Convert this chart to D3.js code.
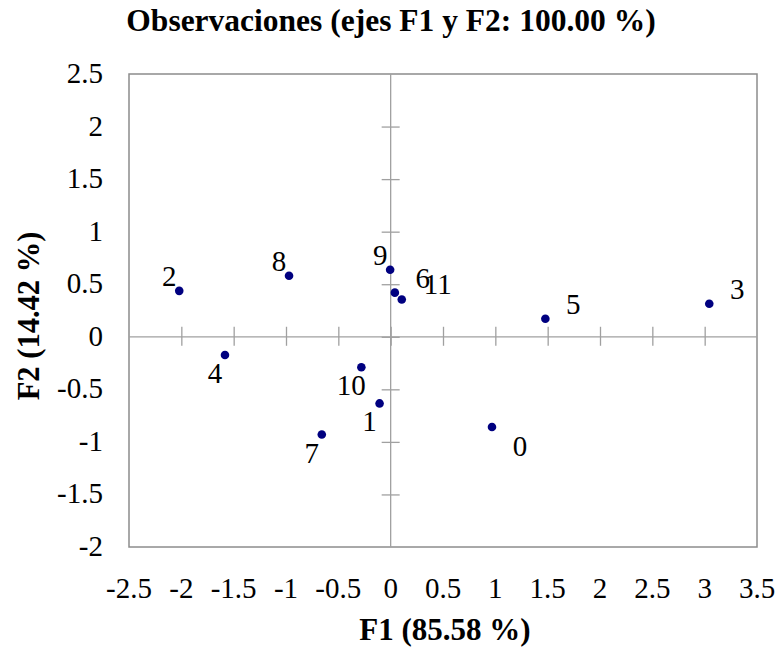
<!DOCTYPE html>
<html>
<head>
<meta charset="utf-8">
<script src="https://cdn.jsdelivr.net/npm/d3@7"></script>
<style>
  body { margin: 0; background: #fff; }
  text { font-family: "Liberation Serif", "Times New Roman", serif; fill: #000; }
</style>
</head>
<body>
<div id="chart"></div>
<script>
// Observaciones: coordenadas F1 / F2
const obsLabels = ["0", "1", "2", "3", "4", "5", "6", "7", "8", "9", "10", "11"];
const f1 = [0.968, -0.106, -2.02, 3.044, -1.583, 1.478, 0.04, -0.658, -0.971, -0.005, -0.28, 0.106];
const f2 = [-0.858, -0.634, 0.437, 0.314, -0.174, 0.171, 0.42, -0.93, 0.58, 0.637, -0.29, 0.355];
const xTicks = [-2.5, -2, -1.5, -1, -0.5, 0, 0.5, 1, 1.5, 2, 2.5, 3, 3.5];
const yTicks = [-2, -1.5, -1, -0.5, 0, 0.5, 1, 1.5, 2, 2.5];

const width = 781, height = 652;
const pLeft = 129, pRight = 757, pTop = 74, pBottom = 547;

const svg = d3.select("#chart").append("svg")
    .attr("width", width)
    .attr("height", height);

const x = d3.scaleLinear().domain([-2.5, 3.5]).range([pLeft, pRight]);
const y = d3.scaleLinear().domain([-2, 2.5]).range([pBottom, pTop]);

// frame
svg.append("rect")
    .attr("x", pLeft).attr("y", pTop)
    .attr("width", pRight - pLeft).attr("height", pBottom - pTop)
    .attr("fill", "none")
    .attr("stroke", "#8c8c8c")
    .attr("stroke-width", 1.5);

// zero axes with crossing ticks
const xAx = svg.append("g")
    .attr("transform", `translate(0,${y(0)})`)
    .call(d3.axisBottom(x).tickValues(xTicks.slice(1, -1)).tickSize(9).tickFormat(""));
xAx.selectAll(".tick line").attr("y1", -10);
const yAx = svg.append("g")
    .attr("transform", `translate(${x(0)},0)`)
    .call(d3.axisLeft(y).tickValues(yTicks.slice(1, -1)).tickSize(9).tickFormat(""));
yAx.selectAll(".tick line").attr("x1", 9);
svg.selectAll(".domain").attr("stroke", "none");
svg.selectAll(".tick line").attr("stroke", "#a0a0a0").attr("stroke-width", 1.3);
svg.append("line")
    .attr("x1", pLeft).attr("x2", pRight).attr("y1", y(0)).attr("y2", y(0))
    .attr("stroke", "#a0a0a0").attr("stroke-width", 1.3);
svg.append("line")
    .attr("x1", x(0)).attr("x2", x(0)).attr("y1", pTop).attr("y2", pBottom)
    .attr("stroke", "#a0a0a0").attr("stroke-width", 1.3);

// tick labels outside the frame
svg.append("g").selectAll("text")
    .data(xTicks).enter().append("text")
    .attr("x", d => x(d))
    .attr("y", 598)
    .attr("text-anchor", "middle")
    .attr("font-size", 29)
    .text(d => d);
svg.append("g").selectAll("text")
    .data(yTicks).enter().append("text")
    .attr("x", 103)
    .attr("y", d => y(d) + 9)
    .attr("text-anchor", "end")
    .attr("font-size", 29)
    .text(d => d);

// points
const pts = obsLabels.map((l, i) => ({l, a: f1[i], b: f2[i]}));
svg.selectAll("circle")
    .data(pts).enter().append("circle")
    .attr("cx", d => x(d.a))
    .attr("cy", d => y(d.b))
    .attr("r", 4.3)
    .attr("fill", "#000080");

// label placement: ul = upper left, ur = upper right, ll = lower left, lr = lower right
const labelSide = {
    "0": "lr", "1": "ll", "2": "ul", "3": "ur", "4": "ll", "5": "ur",
    "6": "ur", "7": "ll", "8": "ul", "9": "ul", "10": "ll", "11": "ur"
};
const sideOff = {ul: [-10, -5], ur: [28, -5], ll: [-10, 28], lr: [28, 29]};
svg.append("g").selectAll("text")
    .data(pts).enter().append("text")
    .attr("x", d => x(d.a) + sideOff[labelSide[d.l]][0] + (d.l === "11" ? 8 : 0))
    .attr("y", d => y(d.b) + sideOff[labelSide[d.l]][1])
    .attr("text-anchor", "middle")
    .attr("font-size", 29)
    .text(d => d.l);

// titles
svg.append("text")
    .attr("x", 391).attr("y", 31)
    .attr("text-anchor", "middle")
    .attr("font-size", 31.5)
    .attr("font-weight", "bold")
    .text("Observaciones (ejes F1 y F2: 100.00 %)");
svg.append("text")
    .attr("x", 445).attr("y", 640)
    .attr("text-anchor", "middle")
    .attr("font-size", 31)
    .attr("font-weight", "bold")
    .text("F1 (85.58 %)");
svg.append("text")
    .attr("transform", `translate(39,316) rotate(-90)`)
    .attr("text-anchor", "middle")
    .attr("font-size", 30.5)
    .attr("font-weight", "bold")
    .text("F2 (14.42 %)");
</script>
</body>
</html>
